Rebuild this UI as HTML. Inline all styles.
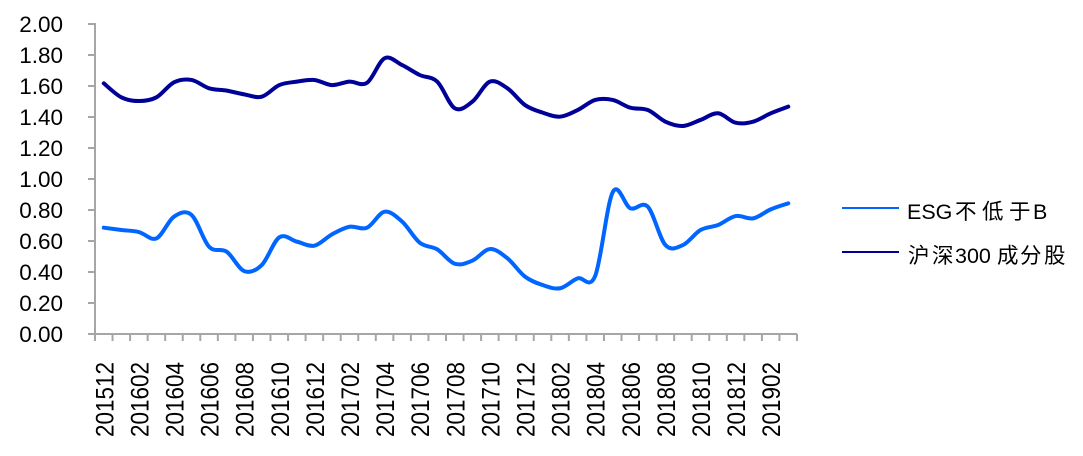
<!DOCTYPE html>
<html><head><meta charset="utf-8">
<style>
html,body{margin:0;padding:0;background:#fff;}
svg{display:block;}
text{font-family:"Liberation Sans","Noto Sans CJK SC",sans-serif;fill:#000;}
</style></head>
<body>
<svg id="c" width="1083" height="456" viewBox="0 0 1083 456" xmlns="http://www.w3.org/2000/svg">
<g stroke="#a6a6a6" stroke-width="2" fill="none">
<line x1="95" y1="23" x2="95" y2="335"/>
<line x1="94" y1="334" x2="797" y2="334"/>
<g id="yt"></g><g id="xt"></g>
</g>
<g font-size="22.5" text-anchor="end">
<text x="63" y="342">0.00</text>
<text x="63" y="311">0.20</text>
<text x="63" y="280">0.40</text>
<text x="63" y="249">0.60</text>
<text x="63" y="218">0.80</text>
<text x="63" y="187">1.00</text>
<text x="63" y="156">1.20</text>
<text x="63" y="125">1.40</text>
<text x="63" y="94">1.60</text>
<text x="63" y="63">1.80</text>
<text x="63" y="32">2.00</text>
</g>
<g font-size="22.5" text-anchor="end" id="xl">
<text transform="translate(113.3,362) rotate(-90) scale(1,1.1)">201512</text>
<text transform="translate(148.4,362) rotate(-90) scale(1,1.1)">201602</text>
<text transform="translate(183.5,362) rotate(-90) scale(1,1.1)">201604</text>
<text transform="translate(218.6,362) rotate(-90) scale(1,1.1)">201606</text>
<text transform="translate(253.7,362) rotate(-90) scale(1,1.1)">201608</text>
<text transform="translate(288.8,362) rotate(-90) scale(1,1.1)">201610</text>
<text transform="translate(323.9,362) rotate(-90) scale(1,1.1)">201612</text>
<text transform="translate(359.0,362) rotate(-90) scale(1,1.1)">201702</text>
<text transform="translate(394.1,362) rotate(-90) scale(1,1.1)">201704</text>
<text transform="translate(429.2,362) rotate(-90) scale(1,1.1)">201706</text>
<text transform="translate(464.3,362) rotate(-90) scale(1,1.1)">201708</text>
<text transform="translate(499.4,362) rotate(-90) scale(1,1.1)">201710</text>
<text transform="translate(534.5,362) rotate(-90) scale(1,1.1)">201712</text>
<text transform="translate(569.6,362) rotate(-90) scale(1,1.1)">201802</text>
<text transform="translate(604.7,362) rotate(-90) scale(1,1.1)">201804</text>
<text transform="translate(639.8,362) rotate(-90) scale(1,1.1)">201806</text>
<text transform="translate(674.9,362) rotate(-90) scale(1,1.1)">201808</text>
<text transform="translate(710.0,362) rotate(-90) scale(1,1.1)">201810</text>
<text transform="translate(745.1,362) rotate(-90) scale(1,1.1)">201812</text>
<text transform="translate(780.2,362) rotate(-90) scale(1,1.1)">201902</text>
</g>
<g id="series">
<polyline id="pd" transform="translate(103.8,334) scale(17.55,-155)" vector-effect="non-scaling-stroke" fill="none" stroke="#000099" stroke-width="4" stroke-linejoin="round"
points="0,1.617 1,1.527 2,1.503 3,1.527 4,1.624 5,1.639 6,1.585 7,1.57 8,1.546 9,1.531 10,1.606 11,1.628 12,1.639 13,1.606 14,1.628 15,1.621 16,1.779 17,1.735 18,1.671 19,1.628 20,1.456 21,1.499 22,1.628 23,1.585 24,1.477 25,1.428 26,1.402 27,1.445 28,1.51 29,1.51 30,1.46 31,1.445 32,1.37 33,1.342 34,1.381 35,1.424 36,1.363 37,1.37 38,1.424 39,1.467"/>
<polyline id="pl" transform="translate(103.8,334) scale(17.55,-155)" vector-effect="non-scaling-stroke" fill="none" stroke="#0066ff" stroke-width="4" stroke-linejoin="round"
points="0,0.686 1,0.671 2,0.658 3,0.617 4,0.757 5,0.768 6,0.563 7,0.531 8,0.406 9,0.445 10,0.624 11,0.596 12,0.57 13,0.643 14,0.692 15,0.686 16,0.789 17,0.725 18,0.589 19,0.546 20,0.453 21,0.473 22,0.548 23,0.488 24,0.37 25,0.316 26,0.295 27,0.359 28,0.375 29,0.915 30,0.811 31,0.821 32,0.574 33,0.574 34,0.671 35,0.703 36,0.761 37,0.746 38,0.804 39,0.843"/>
</g>
<line x1="842" y1="208" x2="899" y2="208" stroke="#0066ff" stroke-width="2"/>
<line x1="842" y1="252" x2="899" y2="252" stroke="#000099" stroke-width="2"/>
<g font-size="21.5">
<text x="907" y="219">ESG</text>
<text x="955" y="219">不</text>
<text x="982" y="219">低</text>
<text x="1009" y="219">于</text>
<text x="1033" y="219">B</text>
<text x="908" y="263">沪</text>
<text x="932" y="263">深</text>
<text x="955" y="263">300</text>
<text x="997" y="263">成</text>
<text x="1020" y="263">分</text>
<text x="1044" y="263">股</text>
</g>
</svg>
<script>
(function(){
var NS="http://www.w3.org/2000/svg";
var yt=document.getElementById("yt"),xt=document.getElementById("xt");
for(var k=0;k<=10;k++){var y=334-31*k;var l=document.createElementNS(NS,"line");l.setAttribute("x1",88);l.setAttribute("x2",95);l.setAttribute("y1",y);l.setAttribute("y2",y);yt.appendChild(l);}
for(var i=0;i<=40;i++){var x=95+17.55*i;var l2=document.createElementNS(NS,"line");l2.setAttribute("x1",x);l2.setAttribute("x2",x);l2.setAttribute("y1",334);l2.setAttribute("y2",341);xt.appendChild(l2);}
function smooth(id){
var pl=document.getElementById(id);
var pts=pl.getAttribute("points").trim().split(/\s+/).map(function(s){var a=s.split(",");return [103.8+17.55*parseFloat(a[0]),334-155*parseFloat(a[1])];});
var d="M"+pts[0][0].toFixed(2)+","+pts[0][1].toFixed(2);
for(var i=0;i<pts.length-1;i++){
var p0=pts[i>0?i-1:i],p1=pts[i],p2=pts[i+1],p3=pts[i+2<pts.length?i+2:i+1];
var c1=[p1[0]+(p2[0]-p0[0])/6,p1[1]+(p2[1]-p0[1])/6];
var c2=[p2[0]-(p3[0]-p1[0])/6,p2[1]-(p3[1]-p1[1])/6];
d+=" C"+c1[0].toFixed(2)+","+c1[1].toFixed(2)+" "+c2[0].toFixed(2)+","+c2[1].toFixed(2)+" "+p2[0].toFixed(2)+","+p2[1].toFixed(2);
}
var p=document.createElementNS(NS,"path");
p.setAttribute("d",d);p.setAttribute("fill","none");p.setAttribute("stroke",pl.getAttribute("stroke"));
p.setAttribute("stroke-width","4");p.setAttribute("stroke-linejoin","round");p.setAttribute("stroke-linecap","round");
pl.parentNode.replaceChild(p,pl);
}
smooth("pd");smooth("pl");
})();
</script>
</body></html>
